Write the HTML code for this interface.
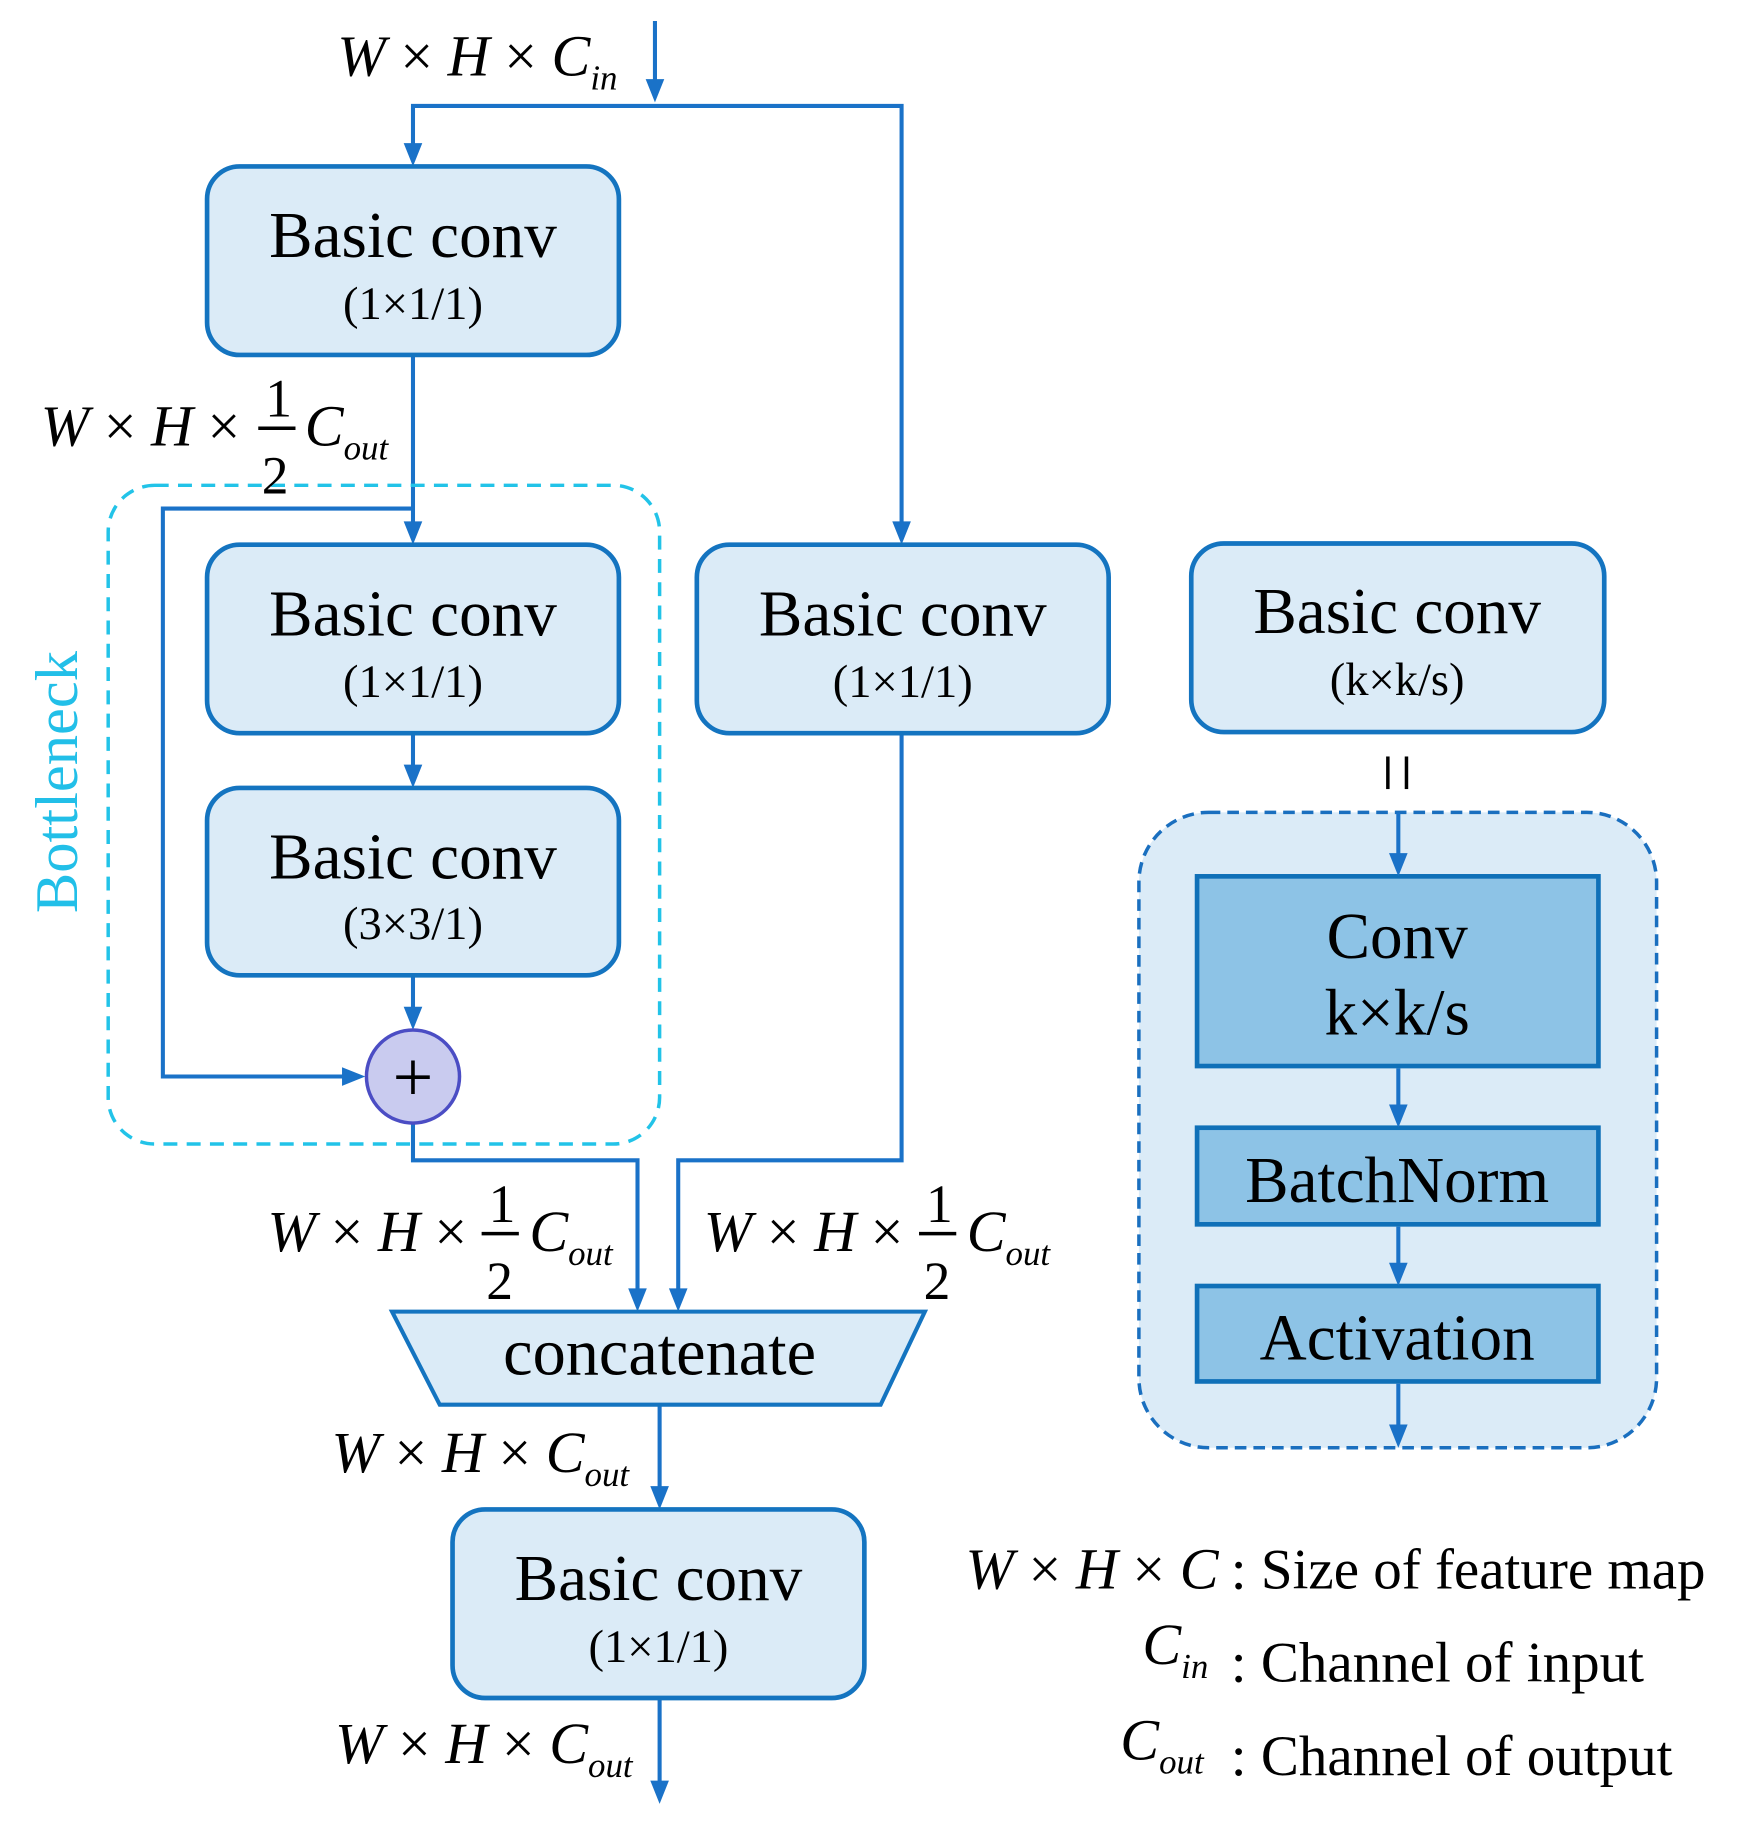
<!DOCTYPE html>
<html><head><meta charset="utf-8"><style>html,body{margin:0;padding:0;background:#fff}svg{display:block}</style></head><body>
<svg width="1745" height="1833" viewBox="0 0 1500 1575" preserveAspectRatio="none" xmlns="http://www.w3.org/2000/svg" font-family="'Liberation Serif', serif">
<g fill="none" stroke="#1a72c8" stroke-width="3.5">
<polyline points="563,18 563,72"/>
<polyline points="355,126 355,91 775,91 775,452"/>
<line x1="355" y1="305" x2="355" y2="452"/>
<polyline points="355,437 140,437 140,925 298,925"/>
<line x1="355" y1="630" x2="355" y2="661"/>
<line x1="355" y1="838" x2="355" y2="869"/>
<polyline points="355,965 355,997 548,997 548,1111"/>
<polyline points="775,630 775,997 583,997 583,1111"/>
<line x1="567" y1="1207" x2="567" y2="1281"/>
<line x1="567" y1="1459" x2="567" y2="1534"/>
</g>
<g fill="#1a72c8">
<path d="M555,68 L571,68 L563,88 z"/>
<path d="M347,123 L363,123 L355,143 z"/>
<path d="M767,448 L783,448 L775,468 z"/>
<path d="M347,448 L363,448 L355,468 z"/>
<path d="M347,657 L363,657 L355,677 z"/>
<path d="M347,865 L363,865 L355,885 z"/>
<path d="M294,917 L294,933 L314,925 z"/>
<path d="M540,1107 L556,1107 L548,1127 z"/>
<path d="M575,1107 L591,1107 L583,1127 z"/>
<path d="M559,1277 L575,1277 L567,1297 z"/>
<path d="M559,1530 L575,1530 L567,1550 z"/>
</g>
<rect x="93" y="417" width="474" height="566" rx="40" fill="none" stroke="#22c3e8" stroke-width="3" stroke-dasharray="12,8"/>
<text transform="translate(66,672) rotate(-90)" text-anchor="middle" font-size="52" fill="#22bfe8">Bottleneck</text>
<g fill="#dbebf7" stroke="#1474c0" stroke-width="4">
<rect x="178" y="143" width="354" height="162" rx="28"/>
<rect x="178" y="468" width="354" height="162" rx="28"/>
<rect x="178" y="677" width="354" height="161" rx="28"/>
<rect x="599" y="468" width="354" height="162" rx="28"/>
<rect x="1024" y="467" width="355" height="162" rx="28"/>
<rect x="389" y="1297" width="354" height="162" rx="28"/>
<polygon points="337,1127 795,1127 757,1207 378,1207" stroke-width="3.5"/>
</g>
<rect x="979" y="698" width="445" height="546" rx="60" fill="#dbebf7" stroke="#1a6fbf" stroke-width="3" stroke-dasharray="10,6"/>
<g fill="#8dc3e6" stroke="#0f70b8" stroke-width="4">
<rect x="1029" y="753" width="345" height="163"/>
<rect x="1029" y="969" width="345" height="83"/>
<rect x="1029" y="1105" width="345" height="82"/>
</g>
<g fill="none" stroke="#1a72c8" stroke-width="3.5">
<line x1="1202" y1="698" x2="1202" y2="737"/>
<line x1="1202" y1="918" x2="1202" y2="953"/>
<line x1="1202" y1="1054" x2="1202" y2="1089"/>
<line x1="1202" y1="1189" x2="1202" y2="1228"/>
</g>
<g fill="#1a72c8">
<path d="M1194,733 L1210,733 L1202,753 z"/>
<path d="M1194,949 L1210,949 L1202,969 z"/>
<path d="M1194,1085 L1210,1085 L1202,1105 z"/>
<path d="M1194,1224 L1210,1224 L1202,1244 z"/>
</g>
<circle cx="355" cy="925" r="40" fill="#c9cbef" stroke="#4b4dc4" stroke-width="3"/>
<text x="355" y="946" text-anchor="middle" font-size="62" fill="#000">+</text>
<g fill="#000" text-anchor="middle">
<g font-size="56">
<text x="355" y="221">Basic conv</text>
<text x="355" y="546">Basic conv</text>
<text x="355" y="755">Basic conv</text>
<text x="776" y="546">Basic conv</text>
<text x="1201" y="544">Basic conv</text>
<text x="566" y="1375">Basic conv</text>
<text x="567" y="1181" font-size="57">concatenate</text>
<text x="1201" y="823">Conv</text>
<text x="1201" y="889">k×k/s</text>
<text x="1201" y="1033">BatchNorm</text>
<text x="1201" y="1168">Activation</text>
</g>
<g font-size="40">
<text x="355" y="274">(1×1/1)</text>
<text x="355" y="599">(1×1/1)</text>
<text x="355" y="807">(3×3/1)</text>
<text x="776" y="599">(1×1/1)</text>
<text x="1201" y="597">(k×k/s)</text>
<text x="566" y="1428">(1×1/1)</text>
</g>
</g>
<g stroke="#000" stroke-width="3"><line x1="1193" y1="650" x2="1193" y2="678"/><line x1="1209" y1="650" x2="1209" y2="678"/></g>
<g fill="#000" font-size="50">
<text x="290" y="65"><tspan font-style="italic">W</tspan> × <tspan font-style="italic">H</tspan> × <tspan font-style="italic">C</tspan><tspan font-style="italic" font-size="30" dy="12">in</tspan></text>
<text x="35" y="383"><tspan font-style="italic">W</tspan> × <tspan font-style="italic">H</tspan> ×</text>
<text x="228" y="358" font-size="46">1</text><line x1="222" y1="368" x2="254" y2="368" stroke="#000" stroke-width="3"/><text x="225" y="424" font-size="46">2</text>
<text x="262" y="383"><tspan font-style="italic">C</tspan><tspan font-style="italic" font-size="30" dy="12">out</tspan></text>
<text x="230" y="1075"><tspan font-style="italic">W</tspan> × <tspan font-style="italic">H</tspan> ×</text>
<text x="420" y="1050" font-size="46">1</text><line x1="414" y1="1060" x2="446" y2="1060" stroke="#000" stroke-width="3"/><text x="418" y="1116" font-size="46">2</text>
<text x="455" y="1075"><tspan font-style="italic">C</tspan><tspan font-style="italic" font-size="30" dy="12">out</tspan></text>
<text x="605" y="1075"><tspan font-style="italic">W</tspan> × <tspan font-style="italic">H</tspan> ×</text>
<text x="796" y="1050" font-size="46">1</text><line x1="790" y1="1060" x2="822" y2="1060" stroke="#000" stroke-width="3"/><text x="794" y="1116" font-size="46">2</text>
<text x="831" y="1075"><tspan font-style="italic">C</tspan><tspan font-style="italic" font-size="30" dy="12">out</tspan></text>
<text x="285" y="1265"><tspan font-style="italic">W</tspan> × <tspan font-style="italic">H</tspan> × <tspan font-style="italic">C</tspan><tspan font-style="italic" font-size="30" dy="12">out</tspan></text>
<text x="288" y="1515"><tspan font-style="italic">W</tspan> × <tspan font-style="italic">H</tspan> × <tspan font-style="italic">C</tspan><tspan font-style="italic" font-size="30" dy="12">out</tspan></text>
<text x="830" y="1365"><tspan font-style="italic">W</tspan> × <tspan font-style="italic">H</tspan> × <tspan font-style="italic">C</tspan></text>
<text x="982" y="1430"><tspan font-style="italic">C</tspan><tspan font-style="italic" font-size="30" dy="12">in</tspan></text>
<text x="963" y="1512"><tspan font-style="italic">C</tspan><tspan font-style="italic" font-size="30" dy="12">out</tspan></text>
<text x="1058" y="1365" font-size="49">: Size of feature map</text>
<text x="1058" y="1445" font-size="49">: Channel of input</text>
<text x="1058" y="1525" font-size="49">: Channel of output</text>
</g>
</svg>
</body></html>
